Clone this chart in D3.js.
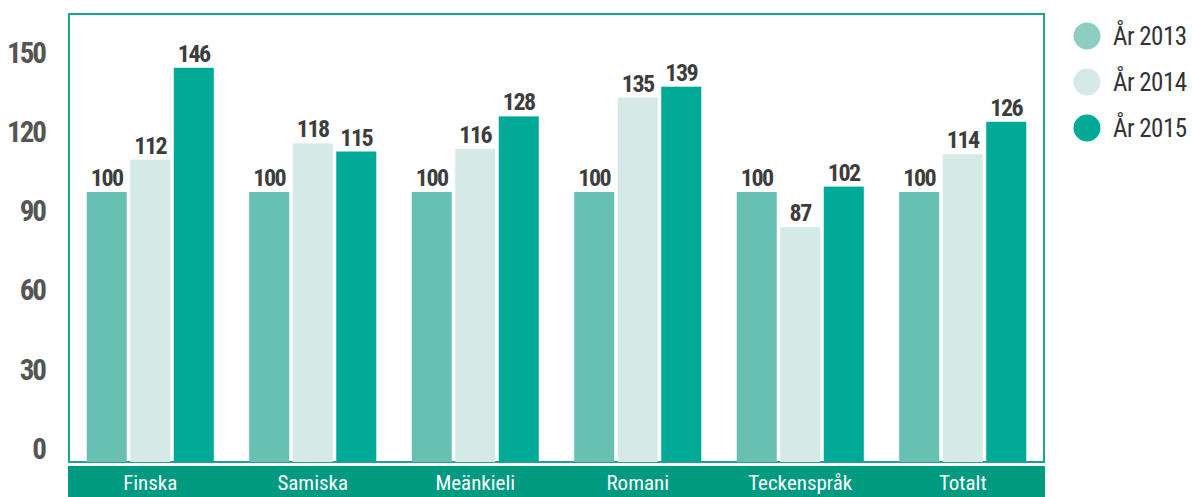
<!DOCTYPE html>
<html>
<head>
<meta charset="utf-8">
<script src="https://cdn.jsdelivr.net/npm/d3@7"></script>
<style>
  body { margin: 0; background: #fff; }
  text { font-family: "Roboto Condensed", "Liberation Sans Narrow", "DejaVu Sans Condensed", sans-serif; }
</style>
</head>
<body>
<div id="chart"></div>
<script>
// data
const categories = ['Finska', 'Samiska', 'Meänkieli', 'Romani', 'Teckenspråk', 'Totalt'];
const years = ['År 2013', 'År 2014', 'År 2015'];
const values2013 = [100, 100, 100, 100, 100, 100];
const values2014 = [112, 118, 116, 135, 87, 114];
const values2015 = [146, 115, 128, 139, 102, 126];
const yTicks = [0, 30, 60, 90, 120, 150];
const colors = ['#68c0b3', '#d5eae7', '#00aa97'];
const legendColors = ['#8fcdc1', '#d5eae7', '#00aa97'];

const series = [values2013, values2014, values2015];

const width = 1192, height = 497;
const plot = {left: 69, right: 1044, top: 14, bottom: 462};

const svg = d3.select('#chart').append('svg')
    .attr('width', width)
    .attr('height', height);

// scales
const x0 = d3.scaleBand()
    .domain(categories)
    .range([plot.left, plot.right])
    .paddingInner(0.218)
    .paddingOuter(0.109);

const x1 = d3.scaleBand()
    .domain(years)
    .range([0, x0.bandwidth()])
    .paddingInner(0.08);

const y = d3.scaleLinear()
    .domain([0, 150])
    .range([plot.bottom, plot.bottom - 405]);

// tick labels sit on their own slightly compressed scale
const yLab = d3.scaleLinear()
    .domain([0, 150])
    .range([449, 53]);

// plot frame
svg.append('rect')
    .attr('x', plot.left)
    .attr('y', plot.top)
    .attr('width', plot.right - plot.left)
    .attr('height', plot.bottom - plot.top)
    .attr('fill', 'none')
    .attr('stroke', '#1aa590')
    .attr('stroke-width', 2);

// bottom category band
svg.append('rect')
    .attr('x', plot.left - 1)
    .attr('y', 466)
    .attr('width', plot.right - plot.left + 2)
    .attr('height', height - 466)
    .attr('fill', '#009a80');

// y axis labels
const yAxis = d3.axisLeft(yLab).tickValues(yTicks).tickSize(0).tickPadding(0);
const yg = svg.append('g')
    .attr('transform', 'translate(45,0)')
    .call(yAxis);
yg.select('.domain').remove();
yg.selectAll('text')
    .attr('fill', '#555')
    .style('font-size', '29px')
    .style('font-weight', 'bold')
    .style('letter-spacing', '-2px');

// bars
const groups = svg.selectAll('g.cat')
    .data(categories)
    .enter()
    .append('g')
    .attr('class', 'cat')
    .attr('transform', (d) => 'translate(' + x0(d) + ',0)');

groups.each(function (cat, ci) {
    const g = d3.select(this);
    const rows = years.map((yr, si) => ({year: yr, value: series[si][ci], color: colors[si]}));

    g.selectAll('rect')
        .data(rows)
        .enter()
        .append('rect')
        .attr('x', (d) => x1(d.year))
        .attr('y', (d) => y(d.value))
        .attr('width', x1.bandwidth())
        .attr('height', (d) => y(0) - y(d.value))
        .attr('fill', (d) => d.color);

    g.selectAll('text.val')
        .data(rows)
        .enter()
        .append('text')
        .attr('class', 'val')
        .attr('x', (d) => x1(d.year) + x1.bandwidth() / 2)
        .attr('y', (d) => y(d.value) - 6)
        .attr('text-anchor', 'middle')
        .attr('fill', '#3d3d3d')
        .style('font-size', '24px')
        .style('font-weight', 'bold')
        .style('letter-spacing', '-1.5px')
        .text((d) => d.value);
});

// x axis labels inside the band
const xAxis = d3.axisBottom(x0).tickSize(0).tickPadding(0);
const xg = svg.append('g')
    .attr('transform', 'translate(0,475)')
    .call(xAxis);
xg.select('.domain').remove();
xg.selectAll('text')
    .attr('fill', '#fff')
    .attr('dy', '0.71em')
    .style('font-size', '21px')
    .style('font-weight', 'normal');

// legend
const legend = svg.selectAll('g.legend')
    .data(years)
    .enter()
    .append('g')
    .attr('class', 'legend')
    .attr('transform', (d, i) => 'translate(1087,' + (36 + i * 46) + ')');

legend.append('circle')
    .attr('r', 13.5)
    .attr('fill', (d, i) => legendColors[i]);

legend.append('text')
    .attr('x', 26)
    .attr('dy', '0.36em')
    .attr('fill', '#333')
    .style('font-size', '25px')
    .style('letter-spacing', '-0.5px')
    .text((d) => d);
</script>
</body>
</html>
